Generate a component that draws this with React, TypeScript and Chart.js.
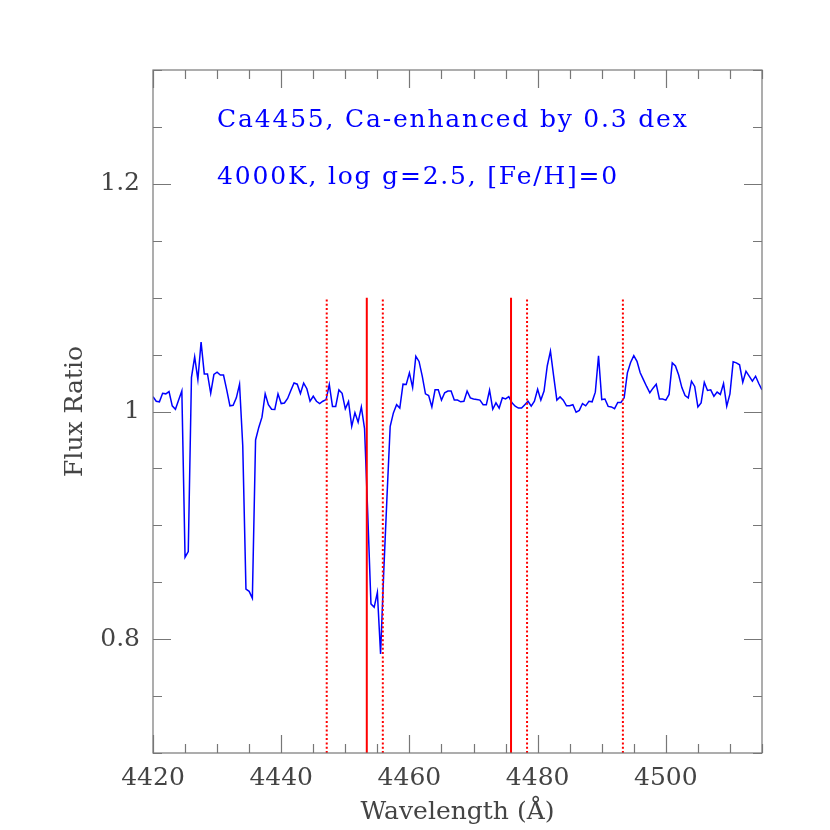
import { useEffect, useRef } from 'react';
import { Chart, registerables } from 'chart.js';

Chart.register(...registerables);

// ---- data ----
const wavelengths = [
  4420.0, 4420.5, 4421.0, 4421.5, 4422.0, 4422.5, 4423.0, 4423.5, 4424.0, 4424.5,
  4425.0, 4425.5, 4426.0, 4426.5, 4427.0, 4427.5, 4428.0, 4428.5, 4429.0, 4429.5,
  4430.0, 4430.5, 4431.0, 4431.5, 4432.0, 4432.5, 4433.0, 4433.5, 4434.0, 4434.5,
  4435.0, 4435.5, 4436.0, 4436.5, 4437.0, 4437.5, 4438.0, 4438.5, 4439.0, 4439.5,
  4440.0, 4440.5, 4441.0, 4441.5, 4442.0, 4442.5, 4443.0, 4443.5, 4444.0, 4444.5,
  4445.0, 4445.5, 4446.0, 4446.5, 4447.0, 4447.5, 4448.0, 4448.5, 4449.0, 4449.5,
  4450.0, 4450.5, 4451.0, 4451.5, 4452.0, 4452.5, 4453.0, 4453.5, 4454.0, 4454.5,
  4455.0, 4455.5, 4456.0, 4456.5, 4457.0, 4457.5, 4458.0, 4458.5, 4459.0, 4459.5,
  4460.0, 4460.5, 4461.0, 4461.5, 4462.0, 4462.5, 4463.0, 4463.5, 4464.0, 4464.5,
  4465.0, 4465.5, 4466.0, 4466.5, 4467.0, 4467.5, 4468.0, 4468.5, 4469.0, 4469.5,
  4470.0, 4470.5, 4471.0, 4471.5, 4472.0, 4472.5, 4473.0, 4473.5, 4474.0, 4474.5,
  4475.0, 4475.5, 4476.0, 4476.5, 4477.0, 4477.5, 4478.0, 4478.5, 4479.0, 4479.5,
  4480.0, 4480.5, 4481.0, 4481.5, 4482.0, 4482.5, 4483.0, 4483.5, 4484.0, 4484.5,
  4485.0, 4485.5, 4486.0, 4486.5, 4487.0, 4487.5, 4488.0, 4488.5, 4489.0, 4489.5,
  4490.0, 4490.5, 4491.0, 4491.5, 4492.0, 4492.5, 4493.0, 4493.5, 4494.0, 4494.5,
  4495.0, 4495.5, 4496.0, 4496.5, 4497.0, 4497.5, 4498.0, 4498.5, 4499.0, 4499.5,
  4500.0, 4500.5, 4501.0, 4501.5, 4502.0, 4502.5, 4503.0, 4503.5, 4504.0, 4504.5,
  4505.0, 4505.5, 4506.0, 4506.5, 4507.0, 4507.5, 4508.0, 4508.5, 4509.0, 4509.5,
  4510.0, 4510.5, 4511.0, 4511.5, 4512.0, 4512.5, 4513.0, 4513.5, 4514.0, 4514.5,
  4515.0,
];

const fluxRatio = [
  1.013, 1.009, 1.0085, 1.016, 1.0155, 1.0175, 1.005, 1.002, 1.010, 1.018,
  0.872, 0.877, 1.030, 1.048, 1.028, 1.061, 1.033, 1.033, 1.016, 1.0325,
  1.0345, 1.032, 1.032, 1.019, 1.005, 1.0055, 1.012, 1.024, 0.970, 0.844,
  0.842, 0.836, 0.975, 0.986, 0.995, 1.0155, 1.006, 1.002, 1.0018, 1.0155,
  1.007, 1.0075, 1.0115, 1.0184, 1.025, 1.024, 1.0158, 1.025, 1.020, 1.009,
  1.0134, 1.009, 1.007, 1.009, 1.0105, 1.0237, 1.0045, 1.0045, 1.019, 1.016,
  1.0023, 1.0087, 0.987, 0.999, 0.9906, 1.004, 0.985, 0.91, 0.831, 0.828,
  0.841, 0.787, 0.86, 0.925, 0.987, 0.9988, 1.006, 1.003, 1.024, 1.0237,
  1.034, 1.021, 1.0485, 1.044, 1.031, 1.0155, 1.014, 1.004, 1.019, 1.019,
  1.010, 1.0165, 1.018, 1.018, 1.010, 1.010, 1.0085, 1.009, 1.018, 1.012,
  1.011, 1.0105, 1.010, 1.006, 1.006, 1.0187, 1.002, 1.0076, 1.003, 1.012,
  1.011, 1.013, 1.0076, 1.0047, 1.003, 1.003, 1.006, 1.009, 1.0047, 1.009,
  1.0195, 1.010, 1.018, 1.040, 1.053, 1.031, 1.010, 1.0128, 1.010, 1.005,
  1.005, 1.006, 0.9994, 1.001, 1.007, 1.005, 1.009, 1.0085, 1.017, 1.049,
  1.0105, 1.011, 1.0045, 1.004, 1.0025, 1.008, 1.008, 1.012, 1.034, 1.043,
  1.049, 1.044, 1.034, 1.028, 1.022, 1.0165, 1.0205, 1.024, 1.011, 1.011,
  1.010, 1.015, 1.0427, 1.040, 1.032, 1.021, 1.014, 1.012, 1.0266, 1.022,
  1.004, 1.0076, 1.0257, 1.0185, 1.019, 1.0134, 1.017, 1.015, 1.0246, 1.0047,
  1.0155, 1.0436, 1.0427, 1.041, 1.0257, 1.0354, 1.031, 1.0266, 1.031, 1.0246,
  1.019,
];

// index band (solid) and pseudo-continua (dotted) boundaries
const solidLineWavelengths = [4453.35, 4475.85];
const dottedLineWavelengths = [4447.1, 4455.85, 4478.35, 4493.3];
const markerLineRange = [0.7, 1.1];

const xRange = [4420, 4515];
const yRange = [0.7, 1.3];
const xTickValues = [4420, 4440, 4460, 4480, 4500];
const xTickLabels = ['4420', '4440', '4460', '4480', '4500'];
const yTickValues = [0.8, 1.0, 1.2];
const yTickLabels = ['0.8', '1', '1.2'];
const xMinorStep = 5;
const yMinorStep = 0.05;

const xTitle = 'Wavelength (Å)';
const yTitle = 'Flux Ratio';
const annotationLines = ['Ca4455, Ca-enhanced by 0.3 dex', '4000K, log g=2.5, [Fe/H]=0'];
const annotationX = 4430;
const annotationY = [1.25, 1.2];

const FONT = "'DejaVu Serif', serif";
const TEXT_COLOR = '#444444';
const AXIS_COLOR = '#777777';

const isMajor = (list: number[], v: number) => list.some((t) => Math.abs(t - v) < 1e-6);

const frameAndTicks = {
  id: 'frameAndTicks',
  afterDraw(chart: any) {
    const { ctx, chartArea: a, scales } = chart;
    const xs = scales.x;
    const ys = scales.y;
    ctx.save();
    ctx.strokeStyle = AXIS_COLOR;
    ctx.lineWidth = 1.2;
    ctx.strokeRect(a.left, a.top, a.right - a.left, a.bottom - a.top);
    const major = 18;
    const minor = 9;
    ctx.beginPath();
    for (let k = 0; ; k++) {
      const v = xRange[0] + k * xMinorStep;
      if (v > xRange[1] + 1e-6) break;
      const px = Math.round(xs.getPixelForValue(v)) + 0.5;
      const len = isMajor(xTickValues, v) ? major : minor;
      ctx.moveTo(px, a.bottom);
      ctx.lineTo(px, a.bottom - len);
      ctx.moveTo(px, a.top);
      ctx.lineTo(px, a.top + len);
    }
    for (let k = 0; ; k++) {
      const v = yRange[0] + k * yMinorStep;
      if (v > yRange[1] + 1e-6) break;
      const py = Math.round(ys.getPixelForValue(v)) + 0.5;
      const len = isMajor(yTickValues, v) ? major : minor;
      ctx.moveTo(a.left, py);
      ctx.lineTo(a.left + len, py);
      ctx.moveTo(a.right, py);
      ctx.lineTo(a.right - len, py);
    }
    ctx.stroke();

    // annotation text
    ctx.fillStyle = '#0000ff';
    ctx.font = `25px ${FONT}`;
    ctx.textAlign = 'left';
    ctx.textBaseline = 'alphabetic';
    try {
      (ctx as any).letterSpacing = '1.8px';
    } catch (e) {
      /* ignore */
    }
    annotationLines.forEach((line, i) => {
      ctx.fillText(line, xs.getPixelForValue(annotationX), ys.getPixelForValue(annotationY[i]));
    });
    ctx.restore();
  },
};

export default function App() {
  const canvasRef = useRef<HTMLCanvasElement | null>(null);

  useEffect(() => {
    document.body.style.margin = '0';
    const canvas = canvasRef.current;
    if (!canvas) return;

    const spectrum = wavelengths.map((w, i) => ({ x: w, y: fluxRatio[i] }));
    const markerDataset = (w: number, dashed: boolean) => ({
      data: [
        { x: w, y: markerLineRange[0] },
        { x: w, y: markerLineRange[1] },
      ],
      borderColor: '#ff0000',
      borderWidth: 2,
      borderDash: dashed ? [2, 2.3] : [],
      pointRadius: 0,
      fill: false,
      order: 1,
    });

    const chart = new Chart(canvas, {
      type: 'line',
      data: {
        datasets: [
          {
            data: spectrum,
            borderColor: '#0000ff',
            borderWidth: 1.5,
            pointRadius: 0,
            tension: 0,
            fill: false,
            order: 2,
          } as any,
          ...solidLineWavelengths.map((w) => markerDataset(w, false) as any),
          ...dottedLineWavelengths.map((w) => markerDataset(w, true) as any),
        ],
      },
      options: {
        animation: false,
        responsive: false,
        maintainAspectRatio: false,
        devicePixelRatio: 1,
        layout: { padding: { top: 70, right: 68, left: 0, bottom: 0 } },
        plugins: { legend: { display: false }, tooltip: { enabled: false } },
        scales: {
          x: {
            type: 'linear',
            position: 'bottom',
            min: xRange[0],
            max: xRange[1],
            grid: { display: false, drawTicks: false },
            border: { display: false },
            afterBuildTicks: (s: any) => {
              s.ticks = xTickValues.map((v) => ({ value: v }));
            },
            ticks: {
              autoSkip: false,
              maxRotation: 0,
              padding: 10,
              color: TEXT_COLOR,
              font: { family: FONT, size: 25 },
              callback: (v: any) => {
                const i = xTickValues.findIndex((t) => Math.abs(t - Number(v)) < 1e-6);
                return i >= 0 ? xTickLabels[i] : '';
              },
            },
            title: {
              display: true,
              text: xTitle,
              color: TEXT_COLOR,
              font: { family: FONT, size: 25 },
              padding: { top: 0, bottom: 3 },
            },
            afterFit: (s: any) => {
              s.height = 77;
            },
          },
          y: {
            type: 'linear',
            position: 'left',
            min: yRange[0],
            max: yRange[1],
            grid: { display: false, drawTicks: false },
            border: { display: false },
            afterBuildTicks: (s: any) => {
              s.ticks = yTickValues.map((v) => ({ value: v }));
            },
            ticks: {
              autoSkip: false,
              padding: 13,
              color: TEXT_COLOR,
              font: { family: FONT, size: 25 },
              callback: (v: any) => {
                const i = yTickValues.findIndex((t) => Math.abs(t - Number(v)) < 1e-6);
                return i >= 0 ? yTickLabels[i] : '';
              },
            },
            title: {
              display: true,
              text: yTitle,
              color: TEXT_COLOR,
              font: { family: FONT, size: 25 },
              padding: { top: 60, bottom: 0 },
            },
            afterFit: (s: any) => {
              s.width = 153;
            },
          },
        },
      } as any,
      plugins: [frameAndTicks],
    });

    return () => chart.destroy();
  }, []);

  return (
    <div style={{ width: 830, height: 830, background: '#ffffff' }}>
      <canvas ref={canvasRef} width={830} height={830} style={{ width: 830, height: 830, display: 'block' }} />
    </div>
  );
}
